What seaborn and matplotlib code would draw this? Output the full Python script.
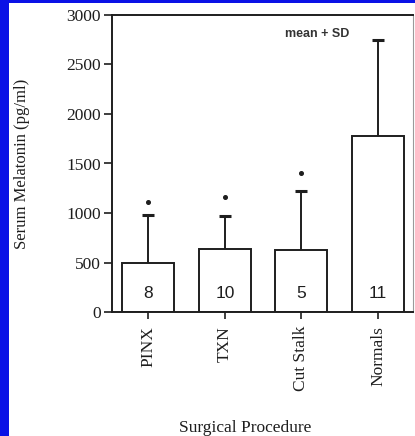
"""
Serum melatonin by surgical procedure (mean + SD bar chart).
"""

import matplotlib
matplotlib.use("Agg")
import matplotlib.pyplot as plt
import numpy as np
import seaborn as sns
from matplotlib.patches import Rectangle

# ============================================================
# DATA
# ============================================================

procedures = ["PINX", "TXN", "Cut Stalk", "Normals"]
mean_melatonin = [500, 640, 626, 1773]
sd_melatonin = [476, 333, 600, 977]
n_subjects = ["8", "10", "5", "11"]
# asterisk heights (significant vs. normals), None = no mark
star_levels = [1116, 1160, 1400, None]

y_ticks = [0, 500, 1000, 1500, 2000, 2500, 3000]

# ============================================================
# STYLE
# ============================================================

INK = "#1e1e1e"
BORDER_BLUE = "#0a12e6"
SERIF = ["Liberation Serif", "DejaVu Serif"]
SANS = ["Liberation Sans", "DejaVu Sans"]

sns.set_style("ticks")
plt.rcParams["font.family"] = SERIF

fig = plt.figure(figsize=(4.15, 4.36), dpi=100, facecolor="white")
ax = fig.add_axes([0.2699, 0.2844, 0.7253, 0.6812])

x = np.arange(len(procedures))

sns.barplot(x=procedures, y=mean_melatonin, color="white", saturation=1,
            edgecolor=INK, linewidth=1.4, width=0.68, ax=ax)

# upper error bars only (mean + SD)
_, caps, _ = ax.errorbar(x, mean_melatonin, yerr=[np.zeros(len(x)), sd_melatonin],
                         fmt="none", ecolor=INK, elinewidth=1.4, capsize=4,
                         capthick=2.2, zorder=3)
# drop the cap sitting on the bar top
for cap in caps:
    if np.allclose(cap.get_ydata(), mean_melatonin):
        cap.set_visible(False)

# significance marks
for xi, lvl in zip(x, star_levels):
    if lvl is not None:
        ax.plot(xi, lvl, marker="o", markersize=2.6, color=INK, linestyle="none")

# group sizes inside the bars
for xi, n in zip(x, n_subjects):
    ax.text(xi, 185, n, ha="center", va="center", fontsize=12.5,
            family=SANS, color=INK)

ax.text(2.20, 2805, "mean + SD", ha="center", va="center", fontsize=9,
        family=SANS, weight="bold", color="#333333")

ax.set_xlim(-0.474, 3.457)
ax.set_ylim(0, 3000)
ax.set_yticks(y_ticks)
ax.set_xticks(x)
ax.set_xticklabels(procedures, rotation=90)

ax.tick_params(axis="y", direction="out", length=6, width=1.2, labelsize=12.5,
               pad=2, colors=INK)
ax.tick_params(axis="x", direction="out", length=5, width=1.2, labelsize=12.5,
               pad=5, colors=INK)

for side in ["left", "top", "bottom"]:
    ax.spines[side].set_linewidth(1.4)
    ax.spines[side].set_color(INK)
ax.spines["right"].set_linewidth(0.8)
ax.spines["right"].set_color("#9a9a9a")

ax.set_ylabel("Serum Melatonin (pg/ml)", fontsize=12, color=INK)
ax.yaxis.set_label_coords(-0.272, 0.5)
ax.set_xlabel("Surgical Procedure", fontsize=12.5, color=INK)
ax.xaxis.set_label_coords(0.442, -0.364)

# blue frame of the original slide (left and top edges)
fig.patches.append(Rectangle((0, 0), 8.5 / 415, 1, transform=fig.transFigure,
                             facecolor=BORDER_BLUE, edgecolor="none", zorder=10))
fig.patches.append(Rectangle((0, 1 - 3.5 / 436), 1, 3.5 / 436, transform=fig.transFigure,
                             facecolor=BORDER_BLUE, edgecolor="none", zorder=10))

fig.savefig("out.png", dpi=100, facecolor="white")
